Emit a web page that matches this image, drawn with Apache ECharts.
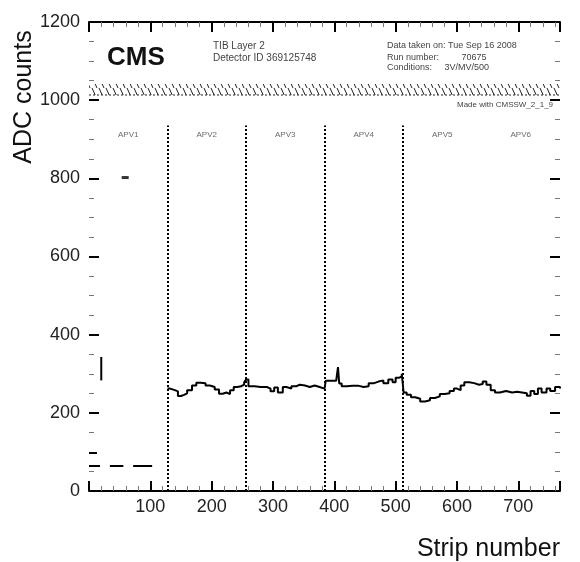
<!DOCTYPE html>
<html><head><meta charset="utf-8">
<script src="https://cdn.jsdelivr.net/npm/echarts@6/dist/echarts.min.js"></script>
<style>html,body{margin:0;padding:0;background:#fff}#c{width:580px;height:562px}</style>
</head><body><div id="c"></div>
<script>
// ---------------- data ----------------
const apvNames = ['APV1', 'APV2', 'APV3', 'APV4', 'APV5', 'APV6'];
const apvCenters = [64, 192, 320, 448, 576, 704];
const apvLabelLevel = 912;
const apvBoundaries = [128, 256, 384, 512];
const boundaryTop = 935;

// APV1 pedestal segments: [fromStrip, toStrip, value]
const apv1Segments = [[0, 18, 64], [34, 56, 64], [72, 103, 64], [0, 13, 97]];
// single noisy strip drawn as a vertical bar: [strip, low, high]
const spikeBar = [20, 283, 343];
// isolated outlier strip
const outlier = [59, 802];

// main histogram (strip where the level starts, ADC value)
const strips = [128,132,140,145,150,155,160,168,175,182,190,197,205,212,218,224,230,236,242,248,253,256,
  260,270,280,290,296,302,308,316,322,330,338,344,352,360,368,376,384,386,395,403,406,408,412,420,430,440,448,
  456,465,472,480,488,495,500,506,510,513,518,525,532,540,548,556,564,572,580,588,595,600,606,612,620,628,636,
  642,648,655,662,670,680,690,698,706,714,720,726,732,738,746,752,760,768];
const values = [262,258,255,243,246,250,258,270,277,276,270,266,260,249,252,248,258,266,268,272,278,285,
  268,266,266,262,255,265,252,266,262,268,272,270,266,270,266,262,264,282,282,280,317,275,268,269,269,266,268,
  276,280,283,276,285,278,290,293,300,252,246,240,236,229,232,238,242,248,250,256,262,258,270,278,276,272,274,
  280,272,258,252,256,252,254,252,250,244,256,248,262,252,262,256,266,262];

// ---------------- build ----------------
const mainData = strips.map((s, i) => [s, values[i]]);
const apv1Data = [];
apv1Segments.forEach(seg => { apv1Data.push([seg[0], seg[2]], [seg[1], seg[2]], [seg[1], '-']); });
const spikeData = [[spikeBar[0], spikeBar[1]], [spikeBar[0], spikeBar[2]]];
const apvLabelData = apvCenters.map((c, i) => ({ value: [c, apvLabelLevel], name: apvNames[i] }));
const boundaryLines = apvBoundaries.map(b => [{ coord: [b, 0] }, { coord: [b, boundaryTop] }]);

// hatch pattern
const pc = document.createElement('canvas');
pc.width = 7; pc.height = 11;
const g = pc.getContext('2d');
g.strokeStyle = '#222'; g.lineWidth = 1;
g.beginPath(); g.moveTo(1, 0); g.lineTo(6, 11); g.stroke();

const FONT = '"Liberation Sans", Arial, sans-serif';
const chart = echarts.init(document.getElementById('c'), null, { renderer: 'canvas' });
const small = (t, x, y, size) => ({ type: 'text', left: x, top: y, style: { text: t, fill: '#444', font: size + 'px ' + FONT } });
const tickStyle = { show: true, inside: true, length: 10, lineStyle: { color: '#000', width: 2 } };
const minorStyle = { show: true, length: 5, lineStyle: { color: '#777', width: 1 } };

chart.setOption({
  animation: false,
  backgroundColor: '#fff',
  grid: { left: 89, right: 20, top: 22, bottom: 69 },
  xAxis: [{
    type: 'value', position: 'bottom', min: 0, max: 768, interval: 100,
    axisLine: { show: true, onZero: false, lineStyle: { color: '#000', width: 2 } },
    axisTick: tickStyle,
    minorTick: Object.assign({ splitNumber: 5 }, minorStyle),
    splitLine: { show: false },
    axisLabel: { color: '#222', fontSize: 18, fontFamily: FONT, margin: 7, showMaxLabel: false,
      formatter: v => v === 0 ? '' : String(v) },
    name: 'Strip number', nameLocation: 'end', nameGap: 0,
    nameTextStyle: { fontSize: 25, fontFamily: FONT, color: '#111', align: 'right', verticalAlign: 'top', padding: [46, 0, 0, 0] }
  }, {
    type: 'value', position: 'top', min: 0, max: 768, interval: 100,
    axisLine: { show: true, onZero: false, lineStyle: { color: '#000', width: 2 } },
    axisTick: tickStyle,
    minorTick: Object.assign({ splitNumber: 5 }, minorStyle),
    splitLine: { show: false }, axisLabel: { show: false }
  }],
  yAxis: [{
    type: 'value', position: 'left', min: 0, max: 1200, interval: 200,
    axisLine: { show: false, onZero: false },
    axisTick: tickStyle,
    minorTick: Object.assign({ splitNumber: 4 }, minorStyle),
    splitLine: { show: false },
    axisLabel: { color: '#222', fontSize: 18, fontFamily: FONT, margin: 9, formatter: v => String(v) }
  }, {
    type: 'value', position: 'right', min: 0, max: 1200, interval: 200,
    axisLine: { show: false, onZero: false },
    axisTick: tickStyle,
    minorTick: Object.assign({ splitNumber: 4 }, minorStyle),
    splitLine: { show: false }, axisLabel: { show: false }
  }],
  series: [
    { type: 'line', data: mainData, step: 'end', showSymbol: false, symbol: 'none',
      lineStyle: { color: '#000', width: 2 },
      markLine: { silent: true, symbol: 'none', label: { show: false },
        lineStyle: { color: '#000', width: 2, type: [2, 2] }, data: boundaryLines } },
    { type: 'line', data: apv1Data, showSymbol: false, symbol: 'none', connectNulls: false,
      lineStyle: { color: '#000', width: 2 } },
    { type: 'line', data: spikeData, showSymbol: false, symbol: 'none',
      lineStyle: { color: '#000', width: 2 } },
    { type: 'scatter', data: [outlier], symbol: 'rect', symbolSize: [7, 3], itemStyle: { color: '#000' } },
    { type: 'scatter', data: apvLabelData, symbolSize: 0,
      label: { show: true, position: 'inside', formatter: p => p.name, color: '#444', fontSize: 8, fontFamily: FONT } }
  ],
  graphic: [
    { type: 'text', left: 107, top: 45, style: { text: 'CMS', fill: '#111', font: 'bold 26px ' + FONT } },
    small('TIB Layer 2', 213, 41, 10),
    small('Detector ID 369125748', 213, 53, 10),
    small('Data taken on: Tue Sep 16 2008', 387, 41, 9),
    small('Run number:         70675', 387, 53, 9),
    small('Conditions:     3V/MV/500', 387, 63, 9),
    small('Made with CMSSW_2_1_9', 457, 101, 8),
    { type: 'rect', shape: { x: 89, y: 84, width: 471, height: 11 },
      style: { fill: { image: pc, repeat: 'repeat' }, stroke: null } },
    { type: 'line', shape: { x1: 89, y1: 95, x2: 560, y2: 95 }, style: { stroke: '#222', lineWidth: 1, lineDash: [2, 2] } },
    { type: 'text', x: 24, y: 97, rotation: Math.PI / 2,
      style: { text: 'ADC counts', fill: '#111', font: '25px ' + FONT, align: 'center', verticalAlign: 'middle' } }
  ]
});
</script></body></html>
